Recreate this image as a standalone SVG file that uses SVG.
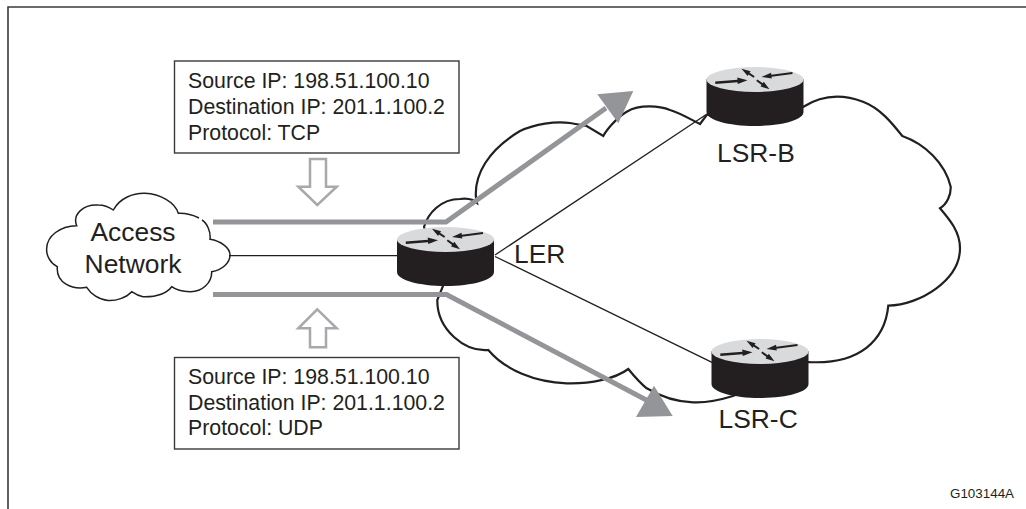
<svg xmlns="http://www.w3.org/2000/svg" width="1026" height="509" viewBox="0 0 1026 509">
<style>
text{font-family:"Liberation Sans",Arial,sans-serif;fill:#231f20}
.t{font-size:21.3px}.l{font-size:26.4px}
.box{fill:#fff;stroke:#3a3a3c;stroke-width:1.4}
.cloud{fill:#fff;stroke:#231f20;stroke-width:2.2;stroke-linejoin:miter}
.thin{fill:none;stroke:#231f20;stroke-width:1.3}
.thick{fill:none;stroke:#939598;stroke-width:5}
.head{fill:#939598}
.out{fill:#fff;stroke:#a7a9ac;stroke-width:2.5}
.top{fill:#d9dadb}.body{fill:#231f20}
</style>
<defs>
<g id="router">
<path class="body" d="M0 12V45C0 53 22 59 48.500 59S97 53 97 45V12Z"/>
<ellipse class="top" cx="48.500" cy="12.500" rx="48.500" ry="12.500"/>
<path class="body" d="M8.700 14.500L31 12.800L30.700 10.600L41 13.300L31.300 17L31 15.300L8.900 17Z"/>
<path class="body" d="M48.200 9.200L43.100 5.800L44.100 4.200L35 1.700L41.100 9L42 7.400L47.100 10.800Z"/>
<path class="body" d="M86.100 6.900L65 9.700L65.300 11.600L55 10L64.500 5.800L64.800 7.700L85.900 5.100Z"/>
<path class="body" d="M49.700 14.100L55.100 17.900L54 19.400L63 22.300L57.300 14.800L56.300 16.300L50.900 12.500Z"/>
</g>
</defs>
<g id="frame"><path d="M8 509V7H1026" fill="none" stroke="#3a3a3c" stroke-width="1.6"/></g>
<g id="access-network">
<path class="cloud" style="stroke-width:1.5" d="M202 220C207 223 211 232 210 239.300C221 241 230 248 230 255C230 263 222 270 211.700 271.700C212 283 202 292 190 291.700C183 291.500 176 290 171.700 286.700C166 294 155 297 143 296.700C139 296 135 294 131.700 291.700C126 298 116 301 108 300.500C99 300 91 294 86.700 287.300C72 290 56 283 57.300 266.700C50 263 46 255 46.700 248.300C47 236 60 226 76.700 225.700C72 214 84 204 98.300 205C104 205 109 207 113.300 210C120 198 133 193 145 193.300C160 194 175 202 178.300 213.300C186 213 193 215 199 218"/>
<text class="l" x="133" y="241" text-anchor="middle">Access</text>
<text class="l" x="133" y="273" text-anchor="middle">Network</text>
</g>
<g id="core-cloud">
<path class="cloud" d="M424 227C428 213 441 199 460 199C465 198 470 199 473 200L477 203L476 198C474 175 488 150 520 131C535 124 555 121 570 123C576 124 582 125 586.700 126L603.300 136C606 131 616 118 626.700 111.700C640 104 660 106 670 110C680 113 690 119 700 124L706.700 115L803 107C820 96 840 93 863 101.700C880 108 892 123 902.300 136C925 144 945 163 950.700 186.700C951 195 947 204 940 208.300C950 220 960 232 960 248.300C960 280 920 305 888.300 305.700C885 340 860 365 808 362L733 396C720 400 705 403 693 402.300C675 402 658 395 646.700 388.300C640 383 634 376 628.300 369C615 379 590 384 566.700 383.300C535 382 505 370 488.300 350C465 352 437 330 437.300 300L443 286Z"/>
</g>
<g id="connectors">
<path class="thin" d="M229 255.700H400M495 255L707 114M495 256.500L712 362.300"/>
<path class="thick" d="M213 222H446L606 108"/>
<path class="head" d="M597.300 94.300L633.300 91L618.300 123.300Z"/>
<path class="thick" d="M213 294.500H446.500L652 403"/>
<path class="head" d="M636 417L672.700 416L654 385.700Z"/>
</g>
<g id="ler"><use href="#router" x="397" y="227"/><text class="l" x="514" y="263">LER</text></g>
<g id="lsr-b"><use href="#router" x="706.500" y="67"/><text class="l" x="717" y="161.500">LSR-B</text></g>
<g id="lsr-c"><use href="#router" x="711.500" y="339"/><text class="l" x="718.500" y="427.700">LSR-C</text></g>
<g id="box-top">
<rect class="box" x="174.500" y="61" width="284.500" height="92"/>
<text class="t"><tspan x="188" y="88">Source IP: 198.51.100.10</tspan><tspan x="188" y="114">Destination IP: 201.1.100.2</tspan><tspan x="188" y="140">Protocol: TCP</tspan></text>
</g>
<g id="box-bottom">
<rect class="box" x="174.500" y="357.500" width="284.500" height="91.500"/>
<text class="t"><tspan x="188" y="384">Source IP: 198.51.100.10</tspan><tspan x="188" y="409.500">Destination IP: 201.1.100.2</tspan><tspan x="188" y="435">Protocol: UDP</tspan></text>
</g>
<g id="arrow-down"><path class="out" d="M310 159H326V186.700H336.700L317.300 205L298.300 186.700H310Z"/></g>
<g id="arrow-up"><path class="out" d="M317.300 309.300L336.700 328.300H326V347.300H310V328.300H298.300Z"/></g>
<text x="950" y="498" font-size="13.400">G103144A</text>
</svg>
